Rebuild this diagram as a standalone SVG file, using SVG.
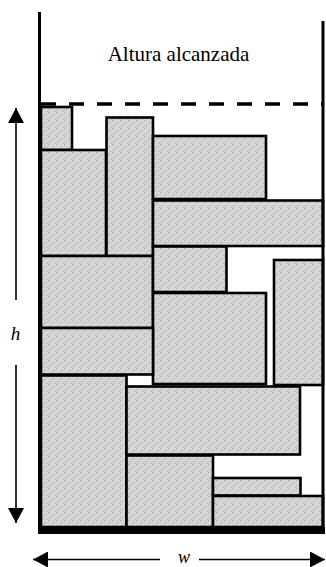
<svg xmlns="http://www.w3.org/2000/svg" width="326" height="567" viewBox="0 0 326 567">
  <style>
    .box { fill: url(#stipple); stroke: #000; stroke-width: 2.6; }
    .wall { stroke: #000; stroke-width: 3; fill: none; }
    .dim { stroke: #000; stroke-width: 1.6; fill: none; }
    .lbl { font-family: "Liberation Serif", "Times New Roman", serif; fill: #000; }
  </style>
  <defs>
    <pattern id="stipple" patternUnits="userSpaceOnUse" width="8" height="8">
      <rect width="8" height="8" fill="#d2d2d2"/>
      <rect x="0" y="0" width="1" height="1" fill="#a9a9a9"/>
      <rect x="3" y="1" width="1" height="1" fill="#ededed"/>
      <rect x="5" y="2" width="1" height="1" fill="#b0b0b0"/>
      <rect x="1" y="3" width="1" height="1" fill="#e8e8e8"/>
      <rect x="6" y="4" width="1" height="1" fill="#eeeeee"/>
      <rect x="2" y="5" width="1" height="1" fill="#adadad"/>
      <rect x="4" y="6" width="1" height="1" fill="#e6e6e6"/>
      <rect x="7" y="7" width="1" height="1" fill="#b3b3b3"/>
      <rect x="0" y="6" width="1" height="1" fill="#bcbcbc"/>
      <rect x="6" y="0" width="1" height="1" fill="#e9e9e9"/>
      <rect x="4" y="3" width="1" height="1" fill="#bababa"/>
    </pattern>
    <marker id="head" viewBox="0 0 15 16" refX="15" refY="8" markerWidth="15" markerHeight="16" markerUnits="userSpaceOnUse" orient="auto-start-reverse">
      <path d="M0,0 L15,8 L0,16 z" fill="#000"/>
    </marker>
  </defs>
  <rect width="326" height="567" fill="#fff"/>

  <text class="lbl" x="178.5" y="60.5" font-size="21" text-anchor="middle">Altura alcanzada</text>

  <g id="r1"><rect class="box" x="41" y="107" width="31" height="43"/></g>
  <g id="r2"><rect class="box" x="41" y="150" width="65" height="106"/></g>
  <g id="r3"><rect class="box" x="106.5" y="117.5" width="46.5" height="138.5"/></g>
  <g id="r4"><rect class="box" x="153" y="136" width="113" height="63"/></g>
  <g id="r5"><rect class="box" x="153" y="200.5" width="170" height="45.5"/></g>
  <g id="r6"><rect class="box" x="41" y="256" width="112" height="72"/></g>
  <g id="r7"><rect class="box" x="153" y="246.5" width="73.5" height="45.5"/></g>
  <g id="r8"><rect class="box" x="274" y="260" width="49" height="125"/></g>
  <g id="r9"><rect class="box" x="153" y="293" width="113" height="91"/></g>
  <g id="r10"><rect class="box" x="41" y="328" width="112" height="46.5"/></g>
  <g id="r11"><rect class="box" x="41" y="375.5" width="85.5" height="151.5"/></g>
  <g id="r12"><rect class="box" x="126.5" y="386.5" width="173.5" height="68"/></g>
  <g id="r13"><rect class="box" x="126.5" y="455.5" width="86.5" height="71.5"/></g>
  <g id="r14"><rect class="box" x="213" y="478" width="87.5" height="17.5"/></g>
  <g id="r15"><rect class="box" x="213" y="496" width="110" height="31"/></g>

  <g id="container">
    <line class="wall" x1="39.5" y1="12" x2="39.5" y2="533"/>
    <line class="wall" x1="323" y1="21" x2="323" y2="533"/>
    <rect x="38" y="527" width="287" height="7" fill="#000"/>
    <line x1="41" y1="104" x2="324" y2="104" stroke="#000" stroke-width="3.5" stroke-dasharray="15 13"/>
  </g>

  <g id="connectors">
    <line class="dim" x1="16" y1="300" x2="16" y2="108" marker-end="url(#head)"/>
    <line class="dim" x1="16" y1="365" x2="16" y2="523" marker-end="url(#head)"/>
    <line class="dim" x1="160" y1="559.5" x2="33" y2="559.5" marker-end="url(#head)"/>
    <line class="dim" x1="199" y1="559.5" x2="325" y2="559.5" marker-end="url(#head)"/>
  </g>
  <text class="lbl" x="15.5" y="340" font-size="19" font-style="italic" text-anchor="middle">h</text>
  <text class="lbl" x="184" y="563" font-size="18" font-style="italic" text-anchor="middle">w</text>
</svg>
